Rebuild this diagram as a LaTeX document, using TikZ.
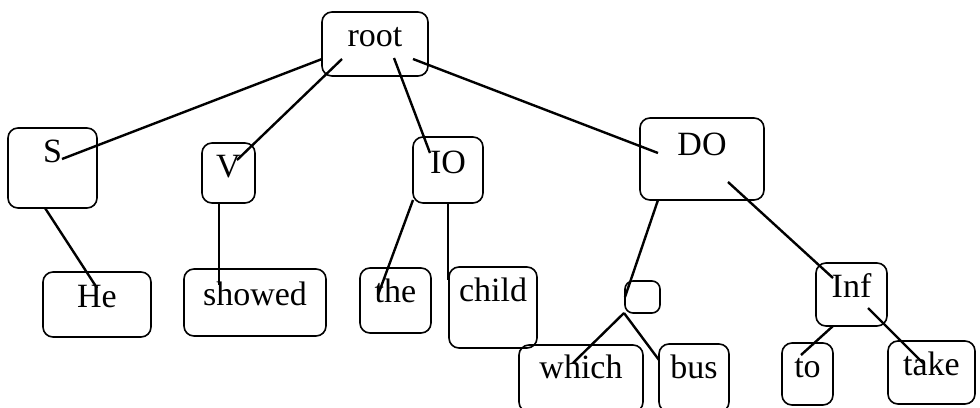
\documentclass[tikz,border=0pt]{standalone}
\usepackage{fontspec}
\setmainfont{Liberation Serif}
\tikzset{
  wbox/.style={draw, rounded corners=10pt, line width=1.6pt, inner sep=0pt,
    align=center, anchor=base, font=\fontsize{34}{38}\selectfont},
  link/.style={line width=2.4pt},
  thinlink/.style={line width=1.5pt}
}
\begin{document}
\begin{tikzpicture}[x=1pt,y=-1pt]
\useasboundingbox (0,0) rectangle (980,407);
% nodes
\node[wbox, text width=106pt, text height=34pt, text depth=30pt] (root) at (375,46) {root};
\node[wbox, text width=89pt, text height=34pt, text depth=46pt] (S) at (52.5,162) {S};
\node[wbox, text width=53pt, text height=34pt, text depth=26pt] (V) at (228.5,177) {V};
\node[wbox, text width=70pt, text height=36pt, text depth=30pt] (IO) at (448,173) {IO};
\node[wbox, text width=124pt, text height=37pt, text depth=45pt] (DO) at (702,155) {DO};
\node[wbox, text width=108pt, text height=35pt, text depth=30pt] (He) at (97,307) {He};
\node[wbox, text width=142pt, text height=36pt, text depth=31pt] (showed) at (255,305) {showed};
\node[wbox, text width=71pt, text height=34pt, text depth=31pt] (the) at (395.5,302) {the};
\node[wbox, text width=88pt, text height=34pt, text depth=47pt] (child) at (493,301) {child};
\node[draw, rounded corners=8pt, line width=1.6pt, inner sep=0pt,
  minimum width=35pt, minimum height=32pt] (emp) at (642.5,297) {};
\node[wbox, text width=71pt, text height=34pt, text depth=29pt] (Inf) at (851.5,297) {Inf};
\node[wbox, text width=124pt, text height=33pt, text depth=34pt] (which) at (581,378) {which};
\node[wbox, text width=70pt, text height=34pt, text depth=34pt] (bus) at (694,378) {bus};
\node[wbox, text width=51pt, text height=34pt, text depth=28pt] (to) at (807.5,377) {to};
\node[wbox, text width=87pt, text height=34pt, text depth=29pt] (take) at (931.5,375) {take};
% connectors
\draw[link] ([shift={(-53,13)}]root.base) -- ([shift={(9.5,-3)}]S.base);
\draw[link] ([shift={(-33,13)}]root.base) -- ([shift={(8.5,-17)}]V.base);
\draw[link] ([shift={(19,12)}]root.base) -- ([shift={(-18,-20)}]IO.base);
\draw[link] ([shift={(38,13)}]root.base) -- ([shift={(-44,-2)}]DO.base);
\draw[link] ([shift={(-7.5,46)}]S.base) -- ([shift={(0,-19)}]He.base);
\draw[thinlink] ([shift={(-9.5,26)}]V.base) -- ([shift={(-36,-20)}]showed.base);
\draw[link] ([shift={(-35,27)}]IO.base) -- ([shift={(-17.5,-7)}]the.base);
\draw[thinlink] ([shift={(0,30)}]IO.base) -- ([shift={(-45,-21)}]child.base);
\draw[link] ([shift={(-44,45)}]DO.base) -- ([shift={(-17.5,0)}]emp.center);
\draw[link] ([shift={(26,27)}]DO.base) -- ([shift={(-18.5,-19)}]Inf.base);
\draw[link] ([shift={(-18.5,16)}]emp.center) -- ([shift={(-8,-15)}]which.base);
\draw[link] ([shift={(-18.5,16)}]emp.center) -- ([shift={(-35,-18)}]bus.base);
\draw[link] ([shift={(-18.5,29)}]Inf.base) -- ([shift={(-6.5,-22)}]to.base);
\draw[link] ([shift={(16.5,11)}]Inf.base) -- ([shift={(-8.5,-12)}]take.base);
\end{tikzpicture}
\end{document}
